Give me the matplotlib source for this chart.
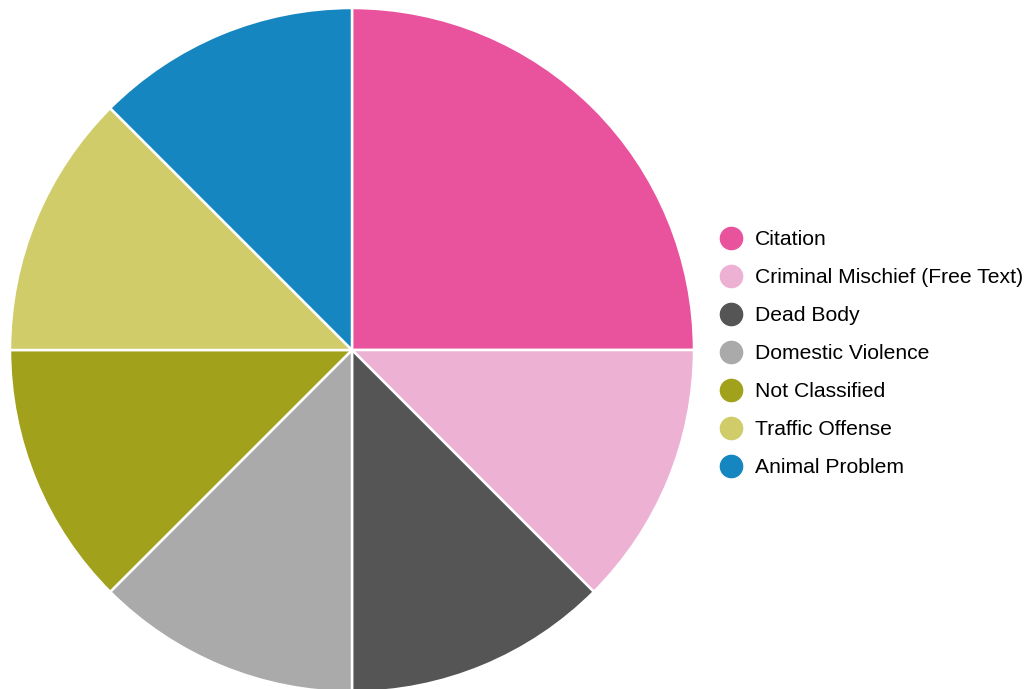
import matplotlib.pyplot as plt
from matplotlib.lines import Line2D

plt.rcParams['font.family'] = ['Liberation Sans', 'DejaVu Sans']

labels = ['Citation', 'Criminal Mischief (Free Text)', 'Dead Body',
          'Domestic Violence', 'Not Classified', 'Traffic Offense', 'Animal Problem']
counts = [2, 1, 1, 1, 1, 1, 1]
colors = ['#e9539d', '#edb1d3', '#555555', '#aaaaaa', '#a2a11c', '#cfcc69', '#1586c0']

W, H = 1027, 689
fig = plt.figure(figsize=(W / 100, H / 100), dpi=100)

# pie centre and radius in pixels
cx, cy, r = 352, 350, 342
ax = fig.add_axes([(cx - r) / W, (H - cy - r) / H, 2 * r / W, 2 * r / H])
ax.pie(counts, colors=colors, startangle=90, counterclock=False, radius=1,
       wedgeprops=dict(edgecolor='white', linewidth=1.8))
ax.set_xlim(-1, 1)
ax.set_ylim(-1, 1)
ax.axis('off')

handles = [Line2D([], [], marker='o', linestyle='', markersize=16,
                  markerfacecolor=c, markeredgecolor=c) for c in colors]
fig.legend(handles, labels, loc='upper left',
           bbox_to_anchor=(720 / W, 1 - 230 / H), frameon=False,
           fontsize=15.2, labelspacing=0.9, handlelength=1.0,
           handletextpad=0.66, borderaxespad=0, borderpad=0)

fig.savefig('out.png', dpi=100)
